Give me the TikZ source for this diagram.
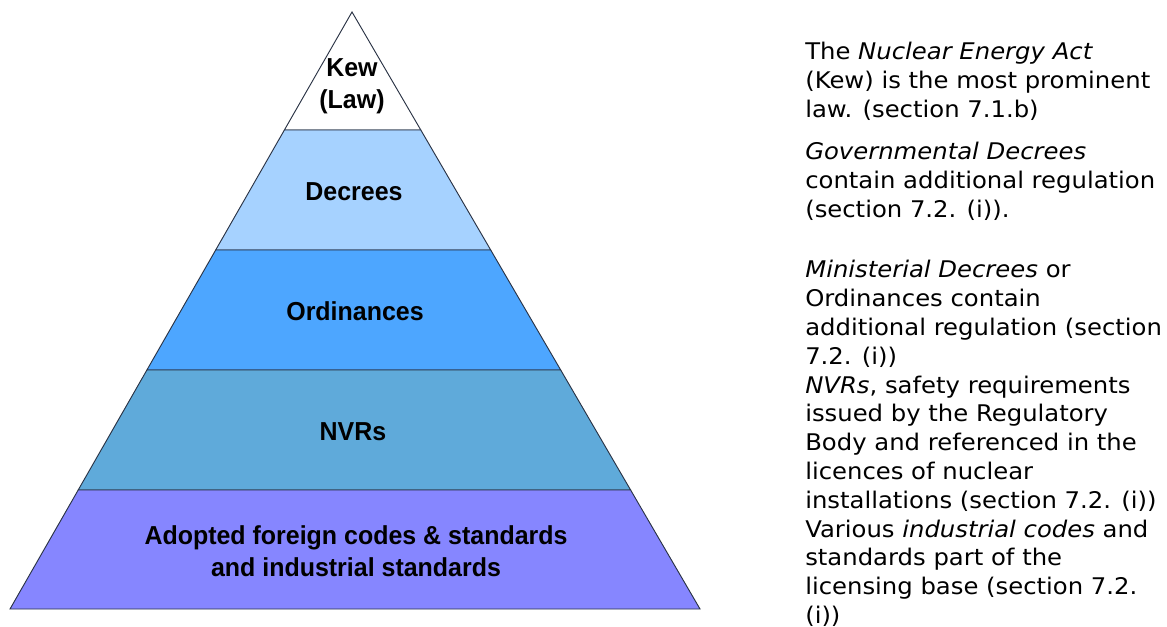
\documentclass[tikz,border=0pt]{standalone}
\usepackage{fontspec}
\setmainfont[FakeStretch=1.06]{DejaVu Sans}
\newfontfamily\labelfont[FakeStretch=0.96]{Liberation Sans}
\usetikzlibrary{calc}
\definecolor{decreeblue}{HTML}{A6D2FF}
\definecolor{ordinanceblue}{HTML}{4DA6FF}
\definecolor{nvrblue}{HTML}{5FAADA}
\definecolor{codeviolet}{HTML}{8686FF}
\definecolor{edgenavy}{HTML}{2A3345}

\begin{document}
\begin{tikzpicture}[x=0.75pt, y=-0.75pt,
    layer/.style={draw=edgenavy, line width=0.7pt},
    layertext/.style={font=\labelfont\bfseries\fontsize{19.5}{24}\selectfont, align=center, inner sep=0pt},
    notetext/.style={font=\fontsize{17.2}{21.6}\selectfont, align=left, anchor=north west, inner sep=0pt}]
        \useasboundingbox (0,0) rectangle (1167,627);

        % Eckpunkte der Pyramide
        \coordinate (apex) at (352,12);
        \coordinate (bl) at (10,609);
        \coordinate (br) at (700,609);
        \coordinate (l1) at (284.4,130);  \coordinate (r1) at (420.8,130);
        \coordinate (l2) at (215.7,250);  \coordinate (r2) at (490.7,250);
        \coordinate (l3) at (146.9,370);  \coordinate (r3) at (560.7,370);
        \coordinate (l4) at (78.2,490);   \coordinate (r4) at (630.6,490);

        % Schichten
        \draw[layer, fill=white] (apex) -- (r1) -- (l1) -- cycle;
        \draw[layer, fill=decreeblue] (l1) -- (r1) -- (r2) -- (l2) -- cycle;
        \draw[layer, fill=ordinanceblue] (l2) -- (r2) -- (r3) -- (l3) -- cycle;
        \draw[layer, fill=nvrblue] (l3) -- (r3) -- (r4) -- (l4) -- cycle;
        \draw[layer, fill=codeviolet] (l4) -- (r4) -- (br) -- (bl) -- cycle;

        % Beschriftung
        \node[layertext] (kew) at (352,86) {Kew\\(Law)};
        \node[layertext] (decrees) at (354,192) {Decrees};
        \node[layertext] (ordinances) at (355,311) {Ordinances};
        \node[layertext] (nvrs) at (353,432) {NVRs};
        \node[layertext] (codes) at (356,551) {Adopted foreign codes \& standards\\and industrial standards};

        % Erlaeuterungen
        \node[notetext] (notes) at (805,42) {The \textit{Nuclear Energy Act}\\
            (Kew) is the most prominent\\
            law. (section 7.1.b)\\[10pt]
            \textit{Governmental Decrees}\\
            contain additional regulation\\
            (section 7.2. (i)).\\[24pt]
            \textit{Ministerial Decrees} or\\
            Ordinances contain\\
            additional regulation (section\\
            7.2. (i))\\
            \textit{NVRs}, safety requirements\\
            issued by the Regulatory\\
            Body and referenced in the\\
            licences of nuclear\\
            installations (section 7.2. (i))\\
            Various \textit{industrial codes} and\\
            standards part of the\\
            licensing base (section 7.2.\\
            (i))};
    \end{tikzpicture}
\end{document}
